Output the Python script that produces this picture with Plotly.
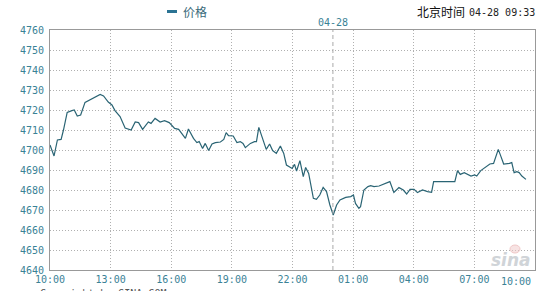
import plotly.graph_objects as go

# ---- data ----
times = [
    "04-27 10:00", "04-27 10:12", "04-27 10:22", "04-27 10:33", "04-27 10:40", "04-27 10:51",
    "04-27 11:05", "04-27 11:12", "04-27 11:21", "04-27 11:31", "04-27 11:44", "04-27 11:59",
    "04-27 12:14", "04-27 12:29", "04-27 12:39", "04-27 12:53", "04-27 13:04", "04-27 13:13",
    "04-27 13:28", "04-27 13:43", "04-27 14:01", "04-27 14:13", "04-27 14:23", "04-27 14:35",
    "04-27 14:52", "04-27 15:00", "04-27 15:12", "04-27 15:27", "04-27 15:40", "04-27 15:54",
    "04-27 16:10", "04-27 16:22", "04-27 16:42", "04-27 16:51", "04-27 17:06", "04-27 17:16",
    "04-27 17:23", "04-27 17:33", "04-27 17:41", "04-27 17:51", "04-27 18:01", "04-27 18:11",
    "04-27 18:26", "04-27 18:36", "04-27 18:43", "04-27 18:50", "04-27 19:04", "04-27 19:15",
    "04-27 19:25", "04-27 19:33", "04-27 19:40", "04-27 19:55", "04-27 20:07", "04-27 20:13",
    "04-27 20:20", "04-27 20:30", "04-27 20:42", "04-27 20:52", "04-27 21:01", "04-27 21:12",
    "04-27 21:24", "04-27 21:34", "04-27 21:42", "04-27 21:59", "04-27 22:06", "04-27 22:12",
    "04-27 22:22", "04-27 22:32", "04-27 22:39", "04-27 22:48", "04-27 23:02", "04-27 23:11",
    "04-27 23:21", "04-27 23:31", "04-27 23:41", "04-27 23:51", "04-28 00:01", "04-28 00:11",
    "04-28 00:21", "04-28 00:38", "04-28 00:53", "04-28 01:01", "04-28 01:07", "04-28 01:17",
    "04-28 01:22", "04-28 01:32", "04-28 01:44", "04-28 01:52", "04-28 02:02", "04-28 02:17",
    "04-28 02:32", "04-28 02:49", "04-28 03:01", "04-28 03:16", "04-28 03:29", "04-28 03:39",
    "04-28 03:49", "04-28 04:01", "04-28 04:11", "04-28 04:26", "04-28 04:41", "04-28 04:53",
    "04-28 04:59", "04-28 06:02", "04-28 06:10", "04-28 06:18", "04-28 06:30", "04-28 06:40",
    "04-28 06:50", "04-28 07:01", "04-28 07:07", "04-28 07:19", "04-28 07:34", "04-28 07:46",
    "04-28 07:57", "04-28 08:02", "04-28 08:11", "04-28 08:19", "04-28 08:27", "04-28 08:44",
    "04-28 08:51", "04-28 08:58", "04-28 09:06", "04-28 09:13", "04-28 09:21", "04-28 09:33",
]
prices = [
    4702.5, 4697, 4705, 4705.3, 4710, 4718.8,
    4719.7, 4720, 4717, 4717.5, 4723.8, 4725,
    4726.3, 4727.8, 4727, 4724, 4722.5, 4719.7,
    4716.7, 4711, 4710, 4714, 4713.7, 4710.3,
    4714, 4713.3, 4715.8, 4714, 4714.7, 4713.7,
    4710.8, 4710.3, 4705.8, 4710.5, 4705.8, 4703.7,
    4704.2, 4700.8, 4703.3, 4699.7, 4703, 4703.7,
    4704, 4705.3, 4708.7, 4707.2, 4707, 4703.7,
    4704.2, 4703.3, 4701.2, 4703.3, 4704.2, 4704.2,
    4711.3, 4706.3, 4700.3, 4703, 4699.7, 4698.3,
    4702, 4698.3, 4692.5, 4690.8, 4692.8, 4689.5,
    4694.7, 4686.7, 4691.3, 4688.3, 4675.8, 4675.3,
    4677.5, 4681.3, 4679.2, 4672.5, 4667.5, 4672.5,
    4675, 4676.3, 4676.7, 4677.5, 4673.3, 4670.8,
    4671.7, 4680, 4681.7, 4682.2, 4681.7, 4682,
    4683, 4684.2, 4678.8, 4681.2, 4680, 4678,
    4680.3, 4680.3, 4678.7, 4680, 4679.2, 4678.8,
    4684.2, 4684.2, 4689.7, 4687.8, 4688.7, 4687.8,
    4687, 4687.5, 4687, 4689.7, 4691.7, 4693,
    4693.3, 4695.8, 4700.3, 4696.7, 4693, 4693.3,
    4693.7, 4688.7, 4689.2, 4688.7, 4687, 4685.3,
]
x_tick_times = ["04-27 10:00", "04-27 13:00", "04-27 16:00", "04-27 19:00", "04-27 22:00",
                "04-28 01:00", "04-28 04:00", "04-28 07:00", "04-28 10:00"]
x_tick_labels = ["10:00", "13:00", "16:00", "19:00", "22:00", "01:00", "04:00", "07:00", "10:00"]
y_ticks = [4640, 4650, 4660, 4670, 4680, 4690, 4700, 4710, 4720, 4730, 4740, 4750, 4760]
day_break = "04-28 00:00"
series_name = "价格"
title_prefix = "北京时间"
title_time = "04-28 09:33"
copyright_text = "Copyright by SINA.COM"

YEAR = "2024-"
def to_dt(s):
    d, t = s.split(" ")
    return YEAR + d + " " + t

xs = [to_dt(t) for t in times]
tickvals = [to_dt(t) for t in x_tick_times]
ticktext = list(x_tick_labels[:-1]) + [""]   # last label placed inset below

TEAL = "#3a8296"
LINE = "#2a6474"
MONO = "DejaVu Sans Mono"

fig = go.Figure()
fig.add_trace(go.Scatter(
    x=xs, y=prices, mode="lines", name=series_name,
    line=dict(color=LINE, width=1.2), showlegend=False,
))

# day separator
fig.add_shape(type="line", x0=to_dt(day_break), x1=to_dt(day_break), y0=0, y1=1,
              xref="x", yref="paper", line=dict(color="#aaaaaa", width=1, dash="4px,3px"))

fig.update_layout(
    width=540, height=291,
    margin=dict(l=50, r=5, t=30, b=21),
    paper_bgcolor="white", plot_bgcolor="white",
    showlegend=False,
    xaxis=dict(
        type="date",
        range=[to_dt("04-27 10:00"), to_dt("04-28 10:00")],
        tickvals=tickvals, ticktext=ticktext,
        showgrid=True, gridcolor="#b0b0b0", griddash="1px,2px", gridwidth=1,
        showline=True, linecolor="#999999", linewidth=1, mirror=True,
        ticks="", tickfont=dict(family=MONO, size=10, color=TEAL),
        zeroline=False,
    ),
    yaxis=dict(
        range=[4640, 4760], tickvals=y_ticks,
        showgrid=True, gridcolor="#b0b0b0", griddash="1px,2px", gridwidth=1,
        showline=True, linecolor="#999999", linewidth=1, mirror=True,
        ticks="", tickfont=dict(family=MONO, size=10, color=TEAL),
        ticklabelstandoff=3, zeroline=False,
    ),
)

def px_x(px):
    return (px - 50) / (535 - 50)

def px_y(py):
    return (270 - py) / (270 - 30)

anns = [
    dict(x=px_x(181), y=px_y(11.5), text=series_name, xanchor="left", yanchor="middle",
         font=dict(family="Noto Sans CJK SC", size=12, color="#3a6a7a")),
    dict(x=px_x(415), y=px_y(11.5), text=title_prefix, xanchor="left", yanchor="middle",
         font=dict(family="Noto Sans CJK SC", size=12, color="#111111")),
    dict(x=px_x(467), y=px_y(12), text=title_time, xanchor="left", yanchor="middle",
         font=dict(family=MONO, size=10, color="#222222")),
    dict(x=to_dt(day_break), xref="x", y=px_y(22.5), text="04-28", xanchor="center", yanchor="middle",
         font=dict(family=MONO, size=10, color=TEAL)),
    dict(x=px_x(533), y=px_y(281.5), text=x_tick_labels[-1], xanchor="right", yanchor="middle",
         font=dict(family=MONO, size=10, color=TEAL)),
    dict(x=px_x(533), y=px_y(260), text="<i><b>sina</b></i>", xanchor="right", yanchor="middle",
         font=dict(family="DejaVu Sans", size=17, color="#d0d4d8")),
    dict(x=px_x(38), y=px_y(293), text=copyright_text, xanchor="left", yanchor="middle",
         font=dict(family=MONO, size=10, color="#555555")),
]
for a in anns:
    a.setdefault("xref", "paper")
    a["yref"] = "paper"
    a["showarrow"] = False
fig.layout.annotations = anns

# legend marker
fig.add_shape(type="line", xref="paper", yref="paper",
              x0=px_x(167), x1=px_x(177), y0=px_y(11.5), y1=px_y(11.5),
              line=dict(color="#2b7393", width=3))
# sina logo dot
fig.add_shape(type="circle", xref="paper", yref="paper",
              x0=px_x(510), x1=px_x(520), y0=px_y(253), y1=px_y(245),
              line=dict(color="#f0c8c8", width=1), fillcolor="rgba(240,200,200,0.5)")

fig.write_html("out.html")
